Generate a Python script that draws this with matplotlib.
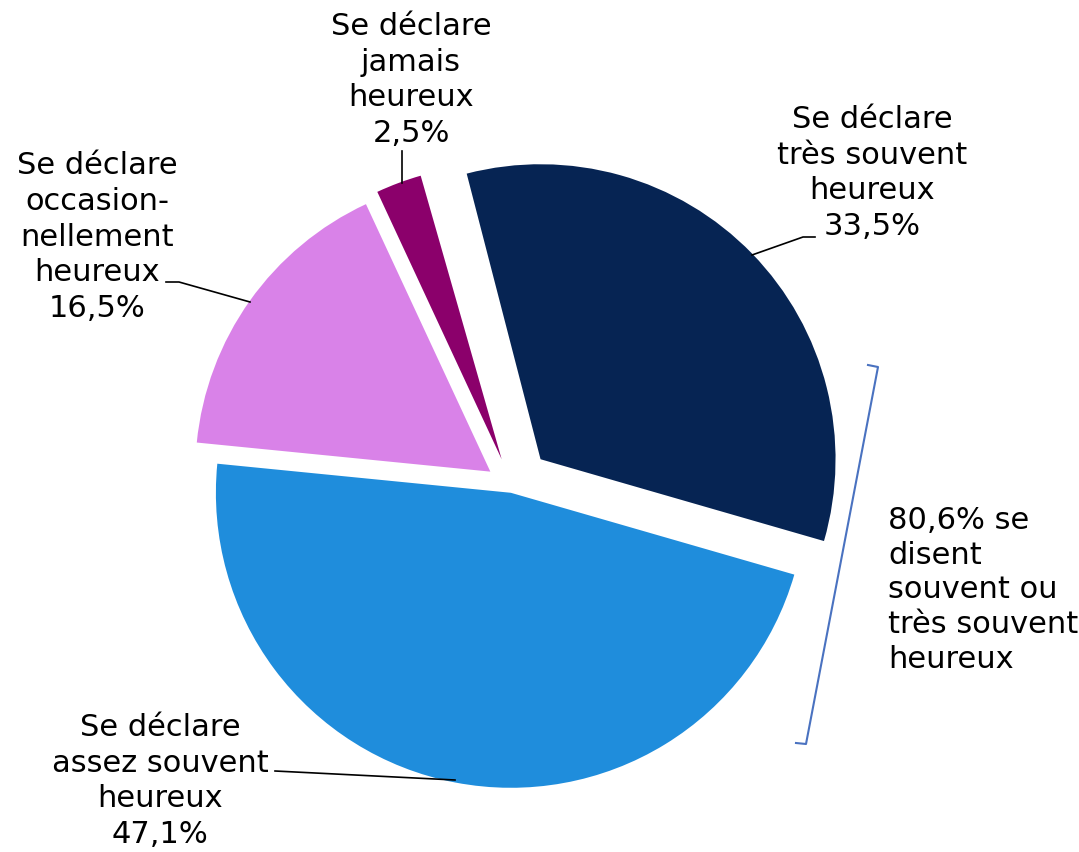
import matplotlib.pyplot as plt

# data
labels = ["Se déclare\ntrès souvent\nheureux\n33,5%",
          "Se déclare\nassez souvent\nheureux\n47,1%",
          "Se déclare\noccasion-\nnellement\nheureux\n16,5%",
          "Se déclare\njamais\nheureux\n2,5%"]
shares = [33.5, 47.1, 16.5, 2.5]
colors = ["#062453", "#1f8ddc", "#d982e8", "#8b006b"]
explode = [0.135, 0.02, 0.09, 0.1]
bracket_text = "80,6% se\ndisent\nsouvent ou\ntrès souvent\nheureux"

W, H = 1079, 853
R = 295
fig = plt.figure(figsize=(W / 100, H / 100), dpi=100)
ax = fig.add_axes([0, 0, 1, 1])

# explode in pie is absolute, so scale by radius
ax.pie([s / 100 for s in shares], colors=colors, explode=[e * R for e in explode],
       startangle=104.5, counterclock=False, normalize=False,
       center=(512, H - 488), radius=R,
       wedgeprops=dict(linewidth=0))

ax.set_xlim(0, W)
ax.set_ylim(0, H)
ax.set_aspect("equal")
ax.axis("off")

fs = 22
tk = dict(ha="center", va="center", fontsize=fs, linespacing=1.3,
          family="DejaVu Sans", color="black")

def Y(y):
    return H - y

# labels (x, y centre in px from top)
pos = [(872, 173), (160, 781), (97, 237), (411, 80)]
for lab, (x, y) in zip(labels, pos):
    ax.text(x, Y(y), lab, **tk)

# leader lines
lines = [
    ([752, 803, 815], [256, 238, 238]),
    ([455, 275], [781, 772]),
    ([166, 179, 250], [283, 283, 303]),
    ([402, 402], [152, 184]),
]
for xs, ys in lines:
    ax.plot(xs, [Y(v) for v in ys], color="black", lw=1.2)

# bracket
bc = "#4a72c0"
ax.plot([868, 878, 806, 796], [Y(366), Y(368), Y(745), Y(744)], color=bc, lw=1.5)
ax.text(888, Y(590), bracket_text, ha="left", va="center", fontsize=fs,
        linespacing=1.25, family="DejaVu Sans")

fig.savefig("out.png", dpi=100)
